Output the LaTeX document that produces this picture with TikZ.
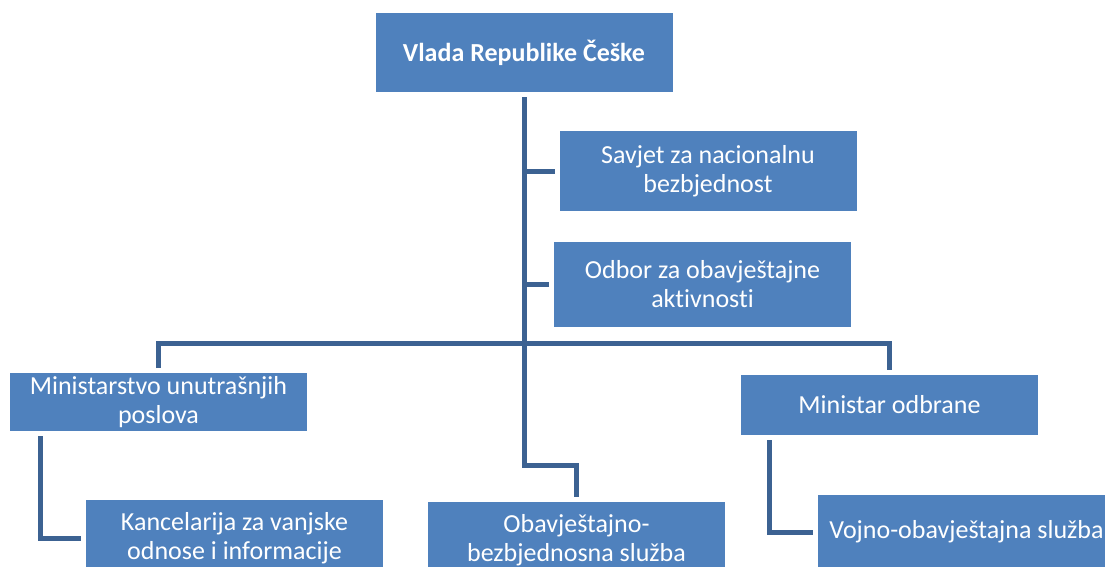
\documentclass[tikz,border=0pt]{standalone}
\usepackage{fontspec}
\setmainfont[Ligatures=NoCommon]{Carlito}
\definecolor{boxblue}{RGB}{79,129,189}
\definecolor{lineblue}{RGB}{60,98,146}
\begin{document}
\begin{tikzpicture}[x=1pt,y=-1pt,
	org/.style={fill=boxblue,text=white,minimum width=297pt,inner sep=0pt,outer sep=5pt,align=center,font=\fontsize{26}{29}\selectfont},
	veza/.style={draw=lineblue,line width=5pt}]
	\useasboundingbox (0,0) rectangle (1105,566);
	\clip (0,0) rectangle (1105,566);
	\node[org,minimum height=79pt,font=\fontsize{26}{29}\selectfont\bfseries] (vlada) at (524,52.5) {Vlada Republike Češke};
	\node[org,minimum height=80pt] (savjet) at (708,171) {Savjet za nacionalnu\\bezbjednost};
	\node[org,minimum height=85pt] (odbor) at (702.5,284.5) {Odbor za obavještajne\\aktivnosti};
	\node[org,minimum height=58pt] (mup) at (158.5,402) {Ministarstvo unutrašnjih\\poslova};
	\node[org,minimum height=60pt] (mo) at (889.5,405) {Ministar odbrane};
	\node[org,minimum height=76pt] (kanc) at (234.5,538) {Kancelarija za vanjske\\odnose i informacije};
	\node[org,minimum height=76pt] (obs) at (576.5,540) {Obavještajno-\\bezbjednosna služba};
	\node[org,minimum height=74pt] (vos) at (966.5,532) {Vojno-obavještajna služba};
	\draw[veza] (vlada.south) -- (vlada.south |- 0,465) -| (obs.north);
	\draw[veza] (savjet.west) -- (savjet.west -| vlada.south);
	\draw[veza] (odbor.west) -- (odbor.west -| vlada.south);
	\draw[veza] (mup.north) -- (mup.north |- 0,343) -| (mo.north);
	\draw[veza] ([xshift=35pt]mup.south west) |- (kanc.west);
	\draw[veza] ([xshift=33pt]mo.south west) |- (vos.west);
\end{tikzpicture}
\end{document}
